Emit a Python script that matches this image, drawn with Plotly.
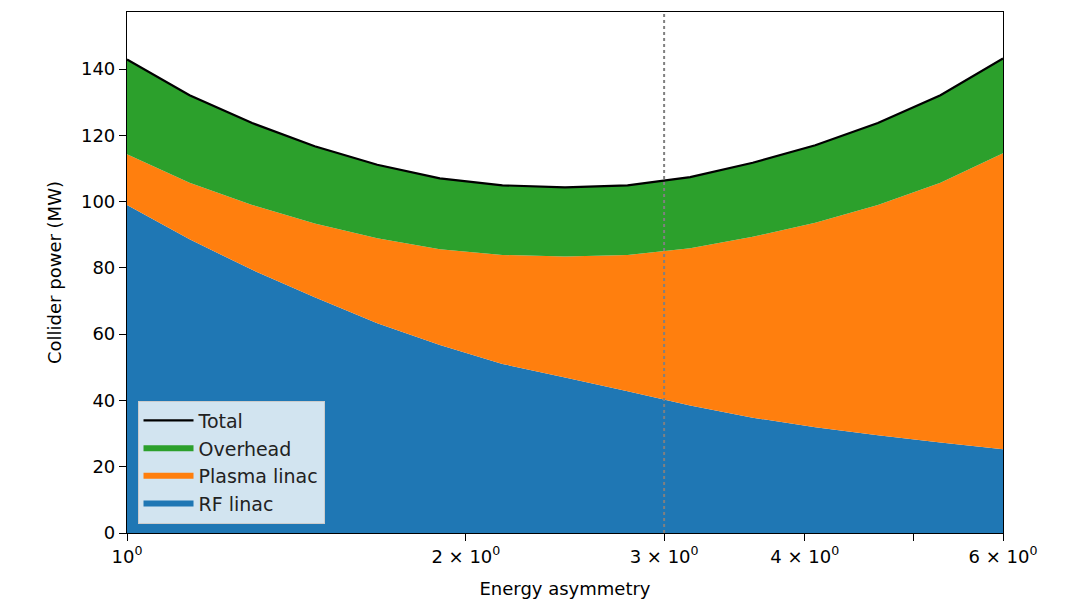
import plotly.graph_objects as go

# Energy asymmetry sample points (log-spaced on the chart)
asymmetry = [1.0, 1.1365, 1.2917, 1.4680, 1.6684, 1.8963, 2.1552, 2.4495,
             2.7840, 3.1640, 3.5960, 4.0870, 4.6450, 5.2793, 6.0]

rf_linac = [99.0, 88.6, 79.4, 71.1, 63.3, 56.7, 51.0, 46.9,
            42.8, 38.5, 34.8, 31.9, 29.5, 27.3, 25.3]
plasma_linac = [15.3, 17.1, 19.6, 22.3, 25.6, 28.9, 32.9, 36.5,
                41.1, 47.4, 54.6, 61.7, 69.5, 78.4, 89.3]
overhead = [28.6, 26.4, 24.7, 23.3, 22.2, 21.4, 21.0, 20.9,
            21.0, 21.5, 22.3, 23.4, 24.7, 26.4, 28.6]

ref_asymmetry = 3.0
y_max = 157.2

x_tickvals = [1, 2, 3, 4, 5, 6]
x_ticktext = ["10<sup>0</sup>", "2 × 10<sup>0</sup>", "3 × 10<sup>0</sup>",
              "4 × 10<sup>0</sup>", "", "6 × 10<sup>0</sup>"]
y_tickvals = [0, 20, 40, 60, 80, 100, 120, 140]

total = [a + b + c for a, b, c in zip(rf_linac, plasma_linac, overhead)]

FONT = "DejaVu Sans"
FS = 18
fig = go.Figure()
fig.add_trace(go.Scatter(x=asymmetry, y=rf_linac, name="RF linac", stackgroup="one",
                         mode="none", fillcolor="#1f77b4", legendrank=4))
fig.add_trace(go.Scatter(x=asymmetry, y=plasma_linac, name="Plasma linac", stackgroup="one",
                         mode="none", fillcolor="#ff7f0e", legendrank=3))
fig.add_trace(go.Scatter(x=asymmetry, y=overhead, name="Overhead", stackgroup="one",
                         mode="none", fillcolor="#2ca02c", legendrank=2))
fig.add_trace(go.Scatter(x=[ref_asymmetry, ref_asymmetry], y=[0, y_max], mode="lines",
                         line=dict(color="grey", width=2, dash="dot"), showlegend=False,
                         hoverinfo="skip"))
fig.add_trace(go.Scatter(x=asymmetry, y=total, name="Total", mode="lines",
                         line=dict(color="black", width=2.2), legendrank=1))

axis_common = dict(showline=True, linecolor="black", linewidth=1.2, mirror=True,
                   ticks="outside", ticklen=7, tickwidth=1.2, tickcolor="black", showgrid=False,
                   zeroline=False, automargin=False,
                   tickfont=dict(family=FONT, size=FS, color="black"))
fig.update_xaxes(type="log", range=[0, 0.778151], tickvals=x_tickvals, ticktext=x_ticktext,
                 title=dict(text="Energy asymmetry", font=dict(family=FONT, size=FS, color="black"),
                            standoff=16),
                 **axis_common)
fig.update_yaxes(range=[0, y_max], tickvals=y_tickvals,
                 title=dict(text="Collider power (MW)", font=dict(family=FONT, size=FS, color="black"),
                            standoff=14),
                 **axis_common)

fig.update_layout(
    width=1076, height=603,
    margin=dict(l=127, r=73, t=12, b=70),
    plot_bgcolor="white", paper_bgcolor="white",
    font=dict(family=FONT, size=FS, color="black"),
    showlegend=True,
    legend=dict(x=0.012, y=0.018, xanchor="left", yanchor="bottom",
                traceorder="normal",
                bgcolor="rgba(255,255,255,0.8)", bordercolor="#cccccc", borderwidth=1,
                font=dict(family=FONT, size=19, color="#222222"),
                itemwidth=50, tracegroupgap=2),
)

fig.write_html("out.html")
